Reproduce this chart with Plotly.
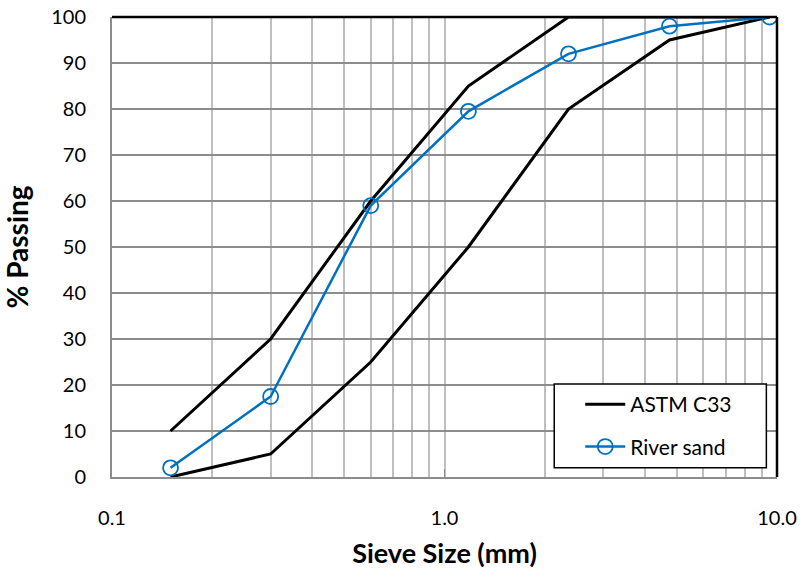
import plotly.graph_objects as go

# Sieve sizes (mm) and percent passing
sieve_mm = [0.15, 0.3, 0.6, 1.18, 2.36, 4.75, 9.5]
astm_lower = [0, 5, 25, 50, 80, 95, 100]
astm_upper = [10, 30, 60, 85, 100, 100, 100]
river_sand = [2, 17.5, 59, 79.5, 92, 98, 100]

y_ticks = list(range(0, 101, 10))
x_tick_vals = [0.1, 1.0, 10.0]
x_tick_text = ["0.1", "1.0", "10.0"]

FONT = "Lato, sans-serif"

fig = go.Figure()

# ASTM C33 grading envelope: lower and upper limit drawn as one legend entry
fig.add_trace(go.Scatter(
    x=sieve_mm + [None] + sieve_mm,
    y=astm_lower + [None] + astm_upper,
    mode="lines",
    name="ASTM C33",
    legendgroup="astm",
    line=dict(color="black", width=3),
    connectgaps=False,
))

fig.add_trace(go.Scatter(
    x=sieve_mm,
    y=river_sand,
    mode="lines+markers",
    name="River sand",
    legendgroup="river",
    line=dict(color="#0070C0", width=2.5),
    marker=dict(symbol="circle-open", size=15, color="#0070C0",
                line=dict(width=1.8, color="#0070C0")),
))

fig.update_xaxes(
    type="log",
    range=[-1, 1],
    tickvals=x_tick_vals,
    ticktext=x_tick_text,
    showgrid=True,
    gridcolor="#bfbfbf",
    gridwidth=1.5,
    minor=dict(showgrid=True, gridcolor="#bfbfbf", gridwidth=1.5,
               dtick="D1"),
    showline=True,
    linecolor="#8c8c8c",
    linewidth=2,
    ticks="inside",
    ticklen=8,
    tickcolor="#8c8c8c",
    ticklabelstandoff=22,
    tickfont=dict(family=FONT, size=20, color="black"),
    title=dict(text="<b>Sieve Size (mm)</b>", standoff=16,
               font=dict(family=FONT, size=27, color="black")),
    zeroline=False,
    automargin=False,
)

fig.update_yaxes(
    range=[0, 100],
    tickvals=y_ticks,
    showgrid=True,
    gridcolor="#8c8c8c",
    gridwidth=2,
    showline=True,
    linecolor="#8c8c8c",
    linewidth=2,
    ticks="inside",
    ticklen=8,
    tickcolor="#8c8c8c",
    ticklabelstandoff=20,
    tickfont=dict(family=FONT, size=20, color="black"),
    title=dict(text="<b>% Passing</b>", standoff=20,
               font=dict(family=FONT, size=28, color="black")),
    zeroline=False,
    automargin=False,
)

# Plot-area border on the top and right edges
fig.add_shape(type="line", xref="paper", yref="paper", x0=0, x1=1, y0=1, y1=1,
              line=dict(color="black", width=2.5), layer="above")
fig.add_shape(type="line", xref="paper", yref="paper", x0=1, x1=1, y0=0, y1=1,
              line=dict(color="black", width=2.5), layer="above")

# Legend frame
fig.add_shape(type="rect", xref="paper", yref="paper",
              x0=0.665, x1=0.984, y0=0.020, y1=0.202,
              line=dict(color="black", width=1.5), fillcolor="white",
              layer="above")

fig.update_layout(
    width=806,
    height=577,
    margin=dict(l=112, r=29, t=17, b=100),
    paper_bgcolor="white",
    plot_bgcolor="white",
    font=dict(family=FONT, color="black"),
    legend=dict(
        x=0.665, y=0.202, xanchor="left", yanchor="top",
        bgcolor="rgba(0,0,0,0)",
        borderwidth=0,
        font=dict(family=FONT, size=21, color="black"),
        itemwidth=40,
        tracegroupgap=12,
        indentation=26,
    ),
)

fig.write_html("out.html")
